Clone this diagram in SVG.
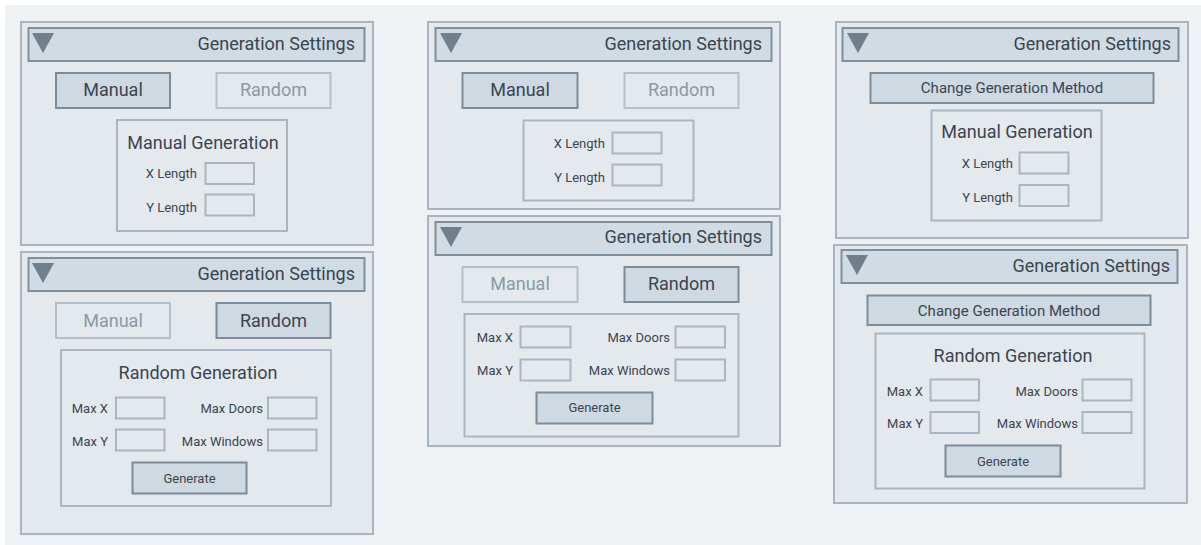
<svg xmlns="http://www.w3.org/2000/svg" width="1201" height="545" viewBox="0 0 1201 545">
  <style>
    text { font-family: Roboto, "Liberation Sans", sans-serif; fill: #3a4550; }
    .panel { fill: #e4e9ee; stroke: #a8b5c0; stroke-width: 2; }
    .header { fill: #d0dbe3; stroke: #7f8f9c; stroke-width: 2; }
    .tri { fill: #6f7f8c; }
    .title { font-size: 18px; text-anchor: end; }
    .btn-on { fill: #cfd9e1; stroke: #7c8c99; stroke-width: 2; }
    .btn-off { fill: #e4e9ee; stroke: #b3c0ca; stroke-width: 2; }
    .btn-text { font-size: 18px; text-anchor: middle; }
    .btn-text-off { font-size: 18px; text-anchor: middle; fill: #8b99a5; }
    .box { fill: #e4e9ee; stroke: #a9b6c1; stroke-width: 2; }
    .box-title { font-size: 18px; text-anchor: middle; }
    .label { font-size: 13px; text-anchor: end; }
    .input { fill: #e4e9ee; stroke: #a9b6c1; stroke-width: 2; }
    .small-btn-text { font-size: 13px; text-anchor: middle; }
    .wide-btn-text { font-size: 15px; text-anchor: middle; }
  </style>

  <rect x="0" y="0" width="1201" height="545" fill="#ffffff"/>
  <rect x="5" y="5" width="1196" height="540" fill="#eef2f5"/>

  <!-- Left column, top: manual mode selected -->
  <g id="panel-manual-tabs">
    <rect class="panel" x="21" y="22" width="352" height="223"/>
    <rect class="header" x="28.5" y="28" width="336" height="33"/>
    <polygon class="tri" points="32,33 54,33 43,53"/>
    <text class="title" x="355" y="50">Generation Settings</text>
    <rect class="btn-on" x="56" y="73" width="114" height="35"/>
    <text class="btn-text" x="113" y="96">Manual</text>
    <rect class="btn-off" x="216.5" y="73" width="114" height="35"/>
    <text class="btn-text-off" x="273.5" y="96">Random</text>
    <rect class="box" x="117" y="120" width="170" height="111"/>
    <text class="box-title" x="203" y="149">Manual Generation</text>
    <text class="label" x="197" y="178">X Length</text>
    <rect class="input" x="205.5" y="163" width="48.5" height="21"/>
    <text class="label" x="197" y="212">Y Length</text>
    <rect class="input" x="205.5" y="194.5" width="48.5" height="21"/>
  </g>

  <!-- Left column, bottom: random mode selected -->
  <g id="panel-random-tabs">
    <rect class="panel" x="21" y="252" width="352" height="282"/>
    <rect class="header" x="28.5" y="258" width="336" height="33"/>
    <polygon class="tri" points="32,263 54,263 43,283"/>
    <text class="title" x="355" y="280">Generation Settings</text>
    <rect class="btn-off" x="56" y="303" width="114" height="35"/>
    <text class="btn-text-off" x="113" y="327">Manual</text>
    <rect class="btn-on" x="216.5" y="303" width="114" height="35"/>
    <text class="btn-text" x="273.5" y="327">Random</text>
    <rect class="box" x="61" y="350" width="270" height="156"/>
    <text class="box-title" x="198" y="379">Random Generation</text>
    <text class="label" x="108" y="413">Max X</text>
    <rect class="input" x="116" y="397.5" width="48.5" height="21"/>
    <text class="label" x="263" y="413">Max Doors</text>
    <rect class="input" x="268" y="397.5" width="48.5" height="21"/>
    <text class="label" x="108" y="446">Max Y</text>
    <rect class="input" x="116" y="429.5" width="48.5" height="21"/>
    <text class="label" x="263" y="446">Max Windows</text>
    <rect class="input" x="268" y="429.5" width="48.5" height="21"/>
    <rect class="btn-on" x="132.5" y="462.5" width="114" height="31"/>
    <text class="small-btn-text" x="189.5" y="483">Generate</text>
  </g>

  <!-- Middle column, top: manual mode without heading -->
  <g id="panel-manual-compact">
    <rect class="panel" x="428" y="22" width="352" height="187"/>
    <rect class="header" x="435.5" y="28" width="336" height="33"/>
    <polygon class="tri" points="440,33 462,33 451,53"/>
    <text class="title" x="762" y="50">Generation Settings</text>
    <rect class="btn-on" x="462.5" y="73" width="115" height="35"/>
    <text class="btn-text" x="520" y="96">Manual</text>
    <rect class="btn-off" x="624.5" y="73" width="114" height="35"/>
    <text class="btn-text-off" x="681.5" y="96">Random</text>
    <rect class="box" x="523.5" y="120.5" width="170" height="80"/>
    <text class="label" x="605" y="148">X Length</text>
    <rect class="input" x="612.5" y="132.5" width="49" height="21"/>
    <text class="label" x="605" y="182">Y Length</text>
    <rect class="input" x="612.5" y="164.5" width="49" height="21"/>
  </g>

  <!-- Middle column, bottom: random mode without heading -->
  <g id="panel-random-compact">
    <rect class="panel" x="428" y="216" width="352" height="230"/>
    <rect class="header" x="435.5" y="222" width="336" height="33"/>
    <polygon class="tri" points="440,227 462,227 451,247"/>
    <text class="title" x="762" y="243">Generation Settings</text>
    <rect class="btn-off" x="462.5" y="267" width="115" height="35"/>
    <text class="btn-text-off" x="520" y="290">Manual</text>
    <rect class="btn-on" x="624.5" y="267" width="114" height="35"/>
    <text class="btn-text" x="681.5" y="290">Random</text>
    <rect class="box" x="464.5" y="314" width="274" height="122.5"/>
    <text class="label" x="513" y="342">Max X</text>
    <rect class="input" x="520.5" y="326.5" width="50" height="21"/>
    <text class="label" x="670" y="342">Max Doors</text>
    <rect class="input" x="675.5" y="326.5" width="49.5" height="21"/>
    <text class="label" x="513" y="375">Max Y</text>
    <rect class="input" x="520.5" y="359.5" width="50" height="21"/>
    <text class="label" x="670" y="375">Max Windows</text>
    <rect class="input" x="675.5" y="359.5" width="49.5" height="21"/>
    <rect class="btn-on" x="536.5" y="392.5" width="116" height="31"/>
    <text class="small-btn-text" x="594.5" y="412">Generate</text>
  </g>

  <!-- Right column, top: single toggle button, manual form -->
  <g id="panel-manual-toggle">
    <rect class="panel" x="836" y="22" width="352" height="216"/>
    <rect class="header" x="842.5" y="28" width="336" height="33"/>
    <polygon class="tri" points="847,33 869,33 858,53"/>
    <text class="title" x="1171" y="50">Generation Settings</text>
    <rect class="btn-on" x="870.5" y="73" width="283" height="30"/>
    <text class="wide-btn-text" x="1012" y="93">Change Generation Method</text>
    <rect class="box" x="931.5" y="110.5" width="170" height="110"/>
    <text class="box-title" x="1017" y="138">Manual Generation</text>
    <text class="label" x="1013" y="168">X Length</text>
    <rect class="input" x="1019.5" y="152.5" width="49" height="21"/>
    <text class="label" x="1013" y="202">Y Length</text>
    <rect class="input" x="1019.5" y="185" width="49" height="21"/>
  </g>

  <!-- Right column, bottom: single toggle button, random form -->
  <g id="panel-random-toggle">
    <rect class="panel" x="834" y="245" width="353" height="258"/>
    <rect class="header" x="841.5" y="250" width="336" height="33"/>
    <polygon class="tri" points="846,255 868,255 857,275"/>
    <text class="title" x="1170" y="272">Generation Settings</text>
    <rect class="btn-on" x="867.5" y="295.5" width="283" height="29.5"/>
    <text class="wide-btn-text" x="1009" y="316">Change Generation Method</text>
    <rect class="box" x="875.5" y="333.5" width="269" height="155"/>
    <text class="box-title" x="1013" y="362">Random Generation</text>
    <text class="label" x="923" y="396">Max X</text>
    <rect class="input" x="930.5" y="379.5" width="48.5" height="21"/>
    <text class="label" x="1078" y="396">Max Doors</text>
    <rect class="input" x="1082.5" y="379.5" width="49" height="21"/>
    <text class="label" x="923" y="428">Max Y</text>
    <rect class="input" x="930.5" y="412" width="48.5" height="21"/>
    <text class="label" x="1078" y="428">Max Windows</text>
    <rect class="input" x="1082.5" y="412" width="49" height="21"/>
    <rect class="btn-on" x="945.5" y="445.5" width="115" height="31"/>
    <text class="small-btn-text" x="1003" y="466">Generate</text>
  </g>
</svg>
